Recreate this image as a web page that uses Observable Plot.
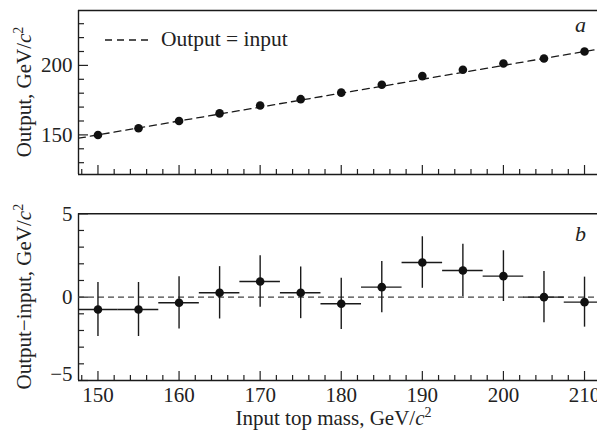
<!DOCTYPE html>
<html><head><meta charset="utf-8">
<script src="https://cdn.jsdelivr.net/npm/d3@7"></script>
<script src="https://cdn.jsdelivr.net/npm/@observablehq/plot@0.6"></script>
<style>
body{margin:0;background:#fff;}
#chart{position:relative;width:597px;height:432px;font-family:"Liberation Serif","Times New Roman",serif;color:#222;}
#chart svg{display:block;}
#legend{position:absolute;left:0;top:0;pointer-events:none;}
</style></head><body><div id="chart"></div>
<script>
// ---- data ----
const inputMass  = [150, 155, 160, 165, 170, 175, 180, 185, 190, 195, 200, 205, 210];
const outputMass = [149.9, 154.8, 160.0, 165.5, 171.2, 175.7, 180.4, 186.1, 192.3, 196.9, 201.4, 205.0, 210.0];
const diffValue  = [-0.74, -0.74, -0.34, 0.26, 0.94, 0.26, -0.40, 0.60, 2.08, 1.60, 1.26, 0.00, -0.30];
const diffError  = [1.62, 1.62, 1.57, 1.57, 1.55, 1.55, 1.54, 1.54, 1.55, 1.57, 1.52, 1.54, 1.50];
const binHalfWidth = 2.5;

const xDomain = [147.6, 211.6];
const yTopDomain = [121.5, 239.5];
const yBotDomain = [-5, 5];
const xMajorTicks = [150, 160, 170, 180, 190, 200, 210];
const xMinorTicks = [148,152,154,156,158,162,164,166,168,172,174,176,178,182,184,186,188,192,194,196,198,202,204,206,208];
const yTopMajorTicks = [150, 200];
const yTopMinorTicks = [130, 140, 160, 170, 180, 190, 210, 220, 230];
const yBotMajorTicks = [-5, 0, 5];
const yBotMinorTicks = [-4, -3, -2, -1, 1, 2, 3, 4];

const legendText = "Output = input";
const panelA = "a", panelB = "b";

const rows = inputMass.map((x, i) => ({x, out: outputMass[i], d: diffValue[i], e: diffError[i]}));

const font = "Liberation Serif";
const style = {fontFamily: font, fontSize: "21px", color: "#222", background: "#fff", overflow: "visible"};
const ink = "#1a1a1a";

// ---- upper panel ----
const topPlot = Plot.plot({
  width: 597, height: 190,
  marginTop: 10, marginBottom: 16, marginLeft: 78, marginRight: 0,
  style,
  x: {domain: xDomain},
  y: {domain: yTopDomain},
  marks: [
    Plot.axisX({ticks: xMinorTicks, tickSize: -5, fill: "none", label: null, strokeWidth: 1.2}),
    Plot.axisX({ticks: xMajorTicks, tickSize: -9, fill: "none", label: null, strokeWidth: 1.2}),
    Plot.axisY({ticks: yTopMinorTicks, tickSize: -6, fill: "none", label: null, strokeWidth: 1.2}),
    Plot.axisY({ticks: yTopMajorTicks, tickSize: -10, fill: "none", label: null, strokeWidth: 1.2}),
    Plot.axisY({ticks: yTopMajorTicks, tickSize: 0, tickPadding: 6, label: null, fontSize: 21}),
    Plot.ruleY([yTopDomain[1]], {stroke: ink, strokeWidth: 1.4}),
    Plot.ruleY([yTopDomain[0]], {stroke: ink, strokeWidth: 1.4}),
    Plot.ruleX([xDomain[0]], {stroke: ink, strokeWidth: 1.4}),
    Plot.line(xDomain, {x: d => d, y: d => d, stroke: ink, strokeWidth: 1.3, strokeDasharray: "7,5", clip: true}),
    Plot.dot(rows, {x: "x", y: "out", r: 4.3, fill: "#111", stroke: "none"}),
    Plot.text([panelA], {frameAnchor: "top-right", textAnchor: "middle", lineAnchor: "bottom", dx: -17, dy: 21, fontStyle: "italic", fontSize: 22})
  ]
});

// ---- lower panel ----
const bottomPlot = Plot.plot({
  width: 597, height: 242,
  marginTop: 23.3, marginBottom: 52, marginLeft: 78, marginRight: 0,
  style,
  x: {domain: xDomain},
  y: {domain: yBotDomain},
  marks: [
    Plot.axisX({ticks: xMinorTicks, tickSize: -5, fill: "none", label: null, strokeWidth: 1.2}),
    Plot.axisX({ticks: xMajorTicks, tickSize: -9, fill: "none", label: null, strokeWidth: 1.2}),
    Plot.axisX({ticks: xMajorTicks, tickSize: 0, tickPadding: 7, label: null, fontSize: 21}),
    Plot.axisY({ticks: yBotMinorTicks, tickSize: -6, fill: "none", label: null, strokeWidth: 1.2}),
    Plot.axisY({ticks: yBotMajorTicks, tickSize: -10, fill: "none", label: null, strokeWidth: 1.2}),
    Plot.axisY({ticks: [5, 0], tickSize: 0, tickPadding: 6, label: null, fontSize: 21}),
    Plot.axisY({ticks: [-5], tickSize: 0, tickPadding: 6, label: null, fontSize: 21, dy: -6, tickFormat: () => "\u22125"}),
    Plot.ruleY([yBotDomain[1]], {stroke: ink, strokeWidth: 1.4}),
    Plot.ruleY([yBotDomain[0]], {stroke: ink, strokeWidth: 1.4}),
    Plot.ruleX([xDomain[0]], {stroke: ink, strokeWidth: 1.4}),
    Plot.ruleY([0], {stroke: "#444", strokeWidth: 1.3, strokeDasharray: "6,4"}),
    Plot.ruleY(rows, {y: "d", x1: r => r.x - binHalfWidth, x2: r => r.x + binHalfWidth, stroke: ink, strokeWidth: 1.4, clip: true}),
    Plot.ruleX(rows, {x: "x", y1: r => r.d - r.e, y2: r => r.d + r.e, stroke: ink, strokeWidth: 1.4, clip: true}),
    Plot.dot(rows, {x: "x", y: "d", r: 4.3, fill: "#111", stroke: "none"}),
    Plot.text([panelB], {frameAnchor: "top-right", textAnchor: "middle", lineAnchor: "bottom", dx: -17, dy: 26.7, fontStyle: "italic", fontSize: 22})
  ]
});

const chart = document.getElementById("chart");
chart.appendChild(topPlot);
chart.appendChild(bottomPlot);

// axis titles with italic c and superscript 2
function addTitle(svg, x, y, rotate, pre) {
  const t = d3.select(svg).append("text")
    .attr("transform", `translate(${x},${y})` + (rotate ? " rotate(-90)" : ""))
    .attr("text-anchor", "middle")
    .attr("fill", "#222")
    .style("font-family", font)
    .style("font-size", "21px");
  t.append("tspan").text(pre);
  t.append("tspan").attr("font-style", "italic").text("c");
  t.append("tspan").attr("font-size", "14px").attr("dy", "-8").text("2");
}
addTitle(topPlot, 31, 92, true, "Output, GeV/");
addTitle(bottomPlot, 31, 106.7, true, "Output\u2212input, GeV/");
addTitle(bottomPlot, 333.5, 235, false, "Input top mass, GeV/");

// legend (inside the upper panel)
const leg = d3.select(chart).append("svg").attr("id", "legend").attr("width", 597).attr("height", 190);
leg.append("line").attr("x1", 105).attr("x2", 153).attr("y1", 40).attr("y2", 40)
  .attr("stroke", ink).attr("stroke-width", 1.3).attr("stroke-dasharray", "7,5");
leg.append("text").attr("x", 161).attr("y", 45.5).attr("fill", "#222")
  .style("font-family", font).style("font-size", "21.5px").text(legendText);
</script></body></html>
